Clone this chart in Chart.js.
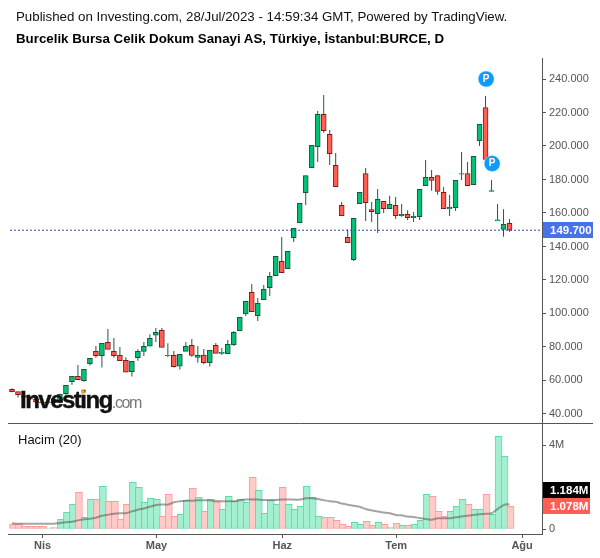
<!DOCTYPE html>
<html>
<head>
<meta charset="utf-8">
<title>BURCE</title>
<script src="https://cdn.jsdelivr.net/npm/chart.js@4"></script>
<style>
  html, body { margin: 0; padding: 0; background: #fff; }
  #wrap { position: relative; width: 600px; height: 558px; overflow: hidden; font-family: "Liberation Sans", Arial, sans-serif; }
  #wrap canvas { position: absolute; left: 0; top: 0; }
  .txt { position: absolute; white-space: nowrap; color: #111; }
  #published { left: 16px; top: 9px; font-size: 13.3px; }
  #symbol { left: 16px; top: 31px; font-size: 13.3px; font-weight: bold; color: #000; }
  #hacim { left: 18px; top: 432px; font-size: 13px; color: #111; }
  #logo { left: 20px; top: 386px; font-size: 24px; font-weight: bold; letter-spacing: -1.5px; color: #111; -webkit-text-stroke: 0.4px #111; }
  #logo span { font-size: 16px; font-weight: normal; color: #777; letter-spacing: -1.4px; -webkit-text-stroke: 0; }
  #dot { position: absolute; left: 81px; top: 390px; width: 4px; height: 4px; border-radius: 2px; background: #f5a623; }
</style>
</head>
<body>
<div id="wrap">
  <canvas id="chart" width="600" height="558"></canvas>
  <div class="txt" id="published">Published on Investing.com, 28/Jul/2023 - 14:59:34 GMT, Powered by TradingView.</div>
  <div class="txt" id="symbol">Burcelik Bursa Celik Dokum Sanayi AS, Türkiye, İstanbul:BURCE, D</div>
  <div class="txt" id="hacim">Hacim (20)</div>
  <div class="txt" id="logo">Investing<span>.com</span></div>
  <div id="dot"></div>
</div>
<script>
const opens = [54.7,53.3,51.0,49.8,48.8,47.0,46.6,48.8,46.8,52.1,59.3,62.5,59.9,70.0,77.4,74.8,82.8,77.4,75.0,72.0,65.3,73.6,77.4,80.4,87.0,90.0,75.0,75.0,68.5,77.4,81.0,73.8,
  75.2,70.6,81.0,76.2,76.0,81.4,89.8,99.7,112.6,98.7,108.3,115.4,122.6,131.1,126.8,145.3,154.2,172.1,187.0,199.6,218.9,206.9,188.4,164.5,145.4,132.1,165.5,183.6,162.1,159.6,166.9,162.5,164.5,
  158.4,159.2,157.2,157.8,176.3,181.3,182.4,172.3,162.5,163.1,183.2,183.6,176.9,203.1,223.0,172.8,155.3,150.2,153.8];
const highs = [55.3,53.3,51.5,50.3,49.2,47.5,47.8,49.5,52.0,57.1,62.5,69.3,66.7,73.2,80.6,82.2,90.7,85.4,80.0,73.8,71.4,78.6,83.0,87.6,91.3,91.3,82.2,77.6,75.6,83.0,84.8,80.6,
  78.8,78.0,82.4,79.4,84.2,89.6,97.7,107.3,117.6,109.3,117.0,124.8,134.1,145.7,137.1,150.8,165.8,182.4,200.4,220.9,230.4,209.5,195.8,166.5,150.2,156.8,172.3,186.8,166.5,174.3,166.9,170.3,169.5,
  165.3,161.7,160.6,174.1,191.6,185.6,182.4,175.5,170.7,179.5,196.4,190.4,193.8,212.9,229.8,179.7,165.3,162.3,156.4];
const lows = [52.9,49.8,49.0,48.3,46.6,46.0,46.2,46.4,46.4,51.3,57.5,60.5,59.3,68.9,73.6,67.7,78.6,73.6,71.8,64.9,62.3,71.8,74.6,80.4,83.0,79.8,73.8,67.7,66.5,77.4,74.2,70.6,
  69.7,68.3,76.2,75.2,76.0,80.6,89.8,98.5,101.1,95.5,108.3,110.4,122.6,124.4,126.8,142.7,154.2,164.7,187.0,190.4,207.9,188.6,175.7,158.4,142.2,131.3,165.5,155.2,154.6,148.0,160.0,162.5,156.4,
  157.8,155.8,154.6,155.8,176.3,173.3,170.9,162.5,158.2,161.2,179.7,176.3,176.9,200.0,192.0,172.8,155.3,145.8,148.8];
const closes = [53.3,51.5,49.8,48.8,47.0,46.6,47.2,46.8,51.7,57.1,62.5,60.5,66.7,73.2,74.8,82.2,78.6,74.8,71.8,64.9,71.4,77.4,80.4,85.2,88.8,79.8,74.8,68.3,75.6,80.4,75.0,75.0,
  70.6,78.0,76.2,76.8,81.6,88.8,97.7,107.3,101.1,106.1,114.4,122.2,134.1,124.4,137.1,150.8,165.8,182.4,200.4,218.9,209.1,195.4,175.7,158.4,142.2,156.8,172.3,166.1,160.8,168.1,162.5,165.1,158.4,
  159.2,157.2,158.0,174.1,181.3,179.5,172.9,162.5,163.3,179.5,183.6,176.3,193.8,212.9,192.0,173.4,155.9,153.2,149.7];
const volumes = [.25,.25,.13,.13,.13,.13,.06,.08,.46,.79,1.17,1.75,.56,1.41,1.41,2.03,1.32,1.32,.46,1.17,2.22,1.98,1.27,1.46,1.41,.6,1.65,.6,.7,1.37,1.94,1.51,
  .84,1.41,1.27,.94,1.56,1.32,1.41,1.27,2.46,1.84,.75,1.37,1.17,1.98,1.17,.94,1.08,2.03,1.51,.6,.56,.56,.41,.22,.13,.32,.22,.37,.17,.32,.22,.08,.27,
  .17,.17,.22,.41,1.65,1.56,.84,.6,.84,1.08,1.41,1.17,.94,.94,1.65,.7,4.41,3.46,1.078];
const volumeMA = [.27,.25,.25,.25,.25,.25,.25,.25,.29,.32,.35,.41,.46,.49,.54,.63,.68,.73,.75,.75,.84,.92,.98,1.06,1.14,1.17,1.16,1.27,1.32,1.35,1.35,1.37,
  1.37,1.37,1.33,1.32,1.32,1.32,1.37,1.40,1.41,1.40,1.38,1.38,1.38,1.40,1.40,1.40,1.40,1.46,1.46,1.43,1.37,1.32,1.30,1.21,1.16,1.11,1.06,.95,.89,.83,.79,.75,.67,
  .65,.59,.57,.52,.48,.44,.51,.51,.51,.56,.59,.63,.67,.70,.73,.75,.95,1.14,1.184];
const priceTicks = [40,60,80,100,120,140,160,180,200,220,240];
const volumeTicks = [0,4];
const monthPositions = [5.1,24.1,45.1,64.1,85.1];
const monthLabels = ['Nis','May','Haz','Tem','Ağu'];
const pMarkers = [{x:79.1,y:240},{x:80.1,y:189.5}];
const lastPrice = 149.7;
const lastVolumeMA = '1.184M';
const lastVolume = '1.078M';

const idx = opens.map((_, i) => i);
const isUp = idx.map(i => closes[i] >= opens[i]);
const axisColor = '#555';
const font = '"Liberation Sans", Arial, sans-serif';

function tag(ctx, text, y, w, bg) {
  ctx.fillStyle = bg;
  ctx.fillRect(543, y - 8, w, 16);
  ctx.fillStyle = '#fff';
  ctx.font = 'bold 11.5px ' + font;
  ctx.textBaseline = 'middle';
  ctx.textAlign = 'left';
  ctx.fillText(text, 550, y + 0.5);
}

const overlays = {
  id: 'overlays',
  afterDatasetsDraw(chart) {
    const ctx = chart.ctx;
    const meta = chart.getDatasetMeta(chart.data.datasets.findIndex(d => d.label === 'P'));
    ctx.save();
    ctx.fillStyle = '#fff';
    ctx.font = 'bold 10px ' + font;
    ctx.textAlign = 'center';
    ctx.textBaseline = 'middle';
    meta.data.forEach(pt => ctx.fillText('P', pt.x, pt.y));
    ctx.restore();
  },
  afterDraw(chart) {
    const ctx = chart.ctx;
    const yP = chart.scales.y.getPixelForValue(lastPrice);
    const yV = chart.scales.yVol.getPixelForValue(1.078);
    ctx.save();
    ctx.strokeStyle = axisColor;
    ctx.lineWidth = 1;
    ctx.beginPath();
    ctx.moveTo(8, 423.5);
    ctx.lineTo(593, 423.5);
    ctx.stroke();
    tag(ctx, lastPrice.toFixed(3), Math.round(yP), 50, '#4a72e8');
    tag(ctx, lastVolumeMA, Math.round(yV) - 16, 47, '#000');
    tag(ctx, lastVolume, Math.round(yV), 47, '#ff5f52');
    ctx.restore();
  }
};

new Chart(document.getElementById('chart'), {
  type: 'bar',
  data: {
    datasets: [
      {
        label: 'P', type: 'scatter', data: pMarkers, yAxisID: 'y', order: 0,
        pointRadius: 8, pointBackgroundColor: '#0f9aff', pointBorderColor: '#cfeaff', pointBorderWidth: 0.5
      },
      {
        label: 'Son', type: 'line', yAxisID: 'y', order: 1, pointRadius: 0,
        data: [{x: -1, y: lastPrice}, {x: 90, y: lastPrice}],
        borderColor: '#2d48a8', borderWidth: 1, borderDash: [2, 2]
      },
      {
        label: 'Mum', yAxisID: 'y', stack: 'a', order: 2, barThickness: 5, borderSkipped: false, borderWidth: 1,
        data: idx.map(i => ({x: i, y: [opens[i], closes[i]]})),
        backgroundColor: idx.map(i => isUp[i] ? '#00c176' : '#ff5f52'),
        borderColor: idx.map(i => isUp[i] ? '#17573c' : '#7c1c18')
      },
      {
        label: 'Fitil', yAxisID: 'y', stack: 'a', order: 3, barThickness: 1, borderWidth: 0, inflateAmount: 0,
        data: idx.map(i => ({x: i, y: [lows[i], highs[i]]})),
        backgroundColor: '#1f5a40'
      },
      {
        label: 'MA', type: 'line', yAxisID: 'yVol', order: 4, pointRadius: 0, tension: 0.3,
        data: idx.map(i => ({x: i, y: volumeMA[i]})),
        borderColor: 'rgba(90,90,90,0.55)', borderWidth: 2
      },
      {
        label: 'Hacim', yAxisID: 'yVol', stack: 'a', order: 5, barThickness: 7, borderSkipped: false, borderWidth: 1,
        data: idx.map(i => ({x: i + 1 / 6, y: volumes[i]})),
        backgroundColor: idx.map(i => isUp[i] ? '#a4efcf' : '#ffcbc8'),
        borderColor: idx.map(i => isUp[i] ? '#62dba8' : '#ff9d97')
      }
    ]
  },
  options: {
    responsive: false,
    animation: false,
    events: [],
    layout: { padding: { top: 58, left: 8, right: 0, bottom: 0 } },
    plugins: { legend: { display: false }, tooltip: { enabled: false } },
    scales: {
      x: {
        type: 'linear', min: -0.5833, max: 88.4167, offset: false, stacked: true,
        afterBuildTicks: s => { s.ticks = monthPositions.map(v => ({value: v})); },
        afterFit: s => { s.height = 24; },
        grid: { drawOnChartArea: false, offset: false, tickLength: 4, tickColor: axisColor },
        border: { color: axisColor },
        ticks: {
          autoSkip: false, maxRotation: 0, padding: 1, color: axisColor,
          font: { family: font, size: 11, weight: 'bold' },
          callback: v => monthLabels[monthPositions.indexOf(v)]
        }
      },
      y: {
        position: 'right', stack: 'panes', stackWeight: 366, weight: 1, stacked: false,
        min: 34, max: 252.54,
        afterBuildTicks: s => { s.ticks = priceTicks.map(v => ({value: v})); },
        afterFit: s => { s.width = 58; },
        grid: { drawOnChartArea: false, tickLength: 4, tickColor: axisColor },
        border: { color: axisColor },
        ticks: { padding: 3, color: axisColor, font: { family: font, size: 11 }, callback: v => v.toFixed(3) }
      },
      yVol: {
        position: 'right', stack: 'panes', stackWeight: 110, weight: 2, stacked: false,
        min: -0.238, max: 5,
        afterBuildTicks: s => { s.ticks = volumeTicks.map(v => ({value: v})); },
        afterFit: s => { s.width = 58; },
        grid: { drawOnChartArea: false, tickLength: 4, tickColor: axisColor },
        border: { color: axisColor },
        ticks: { padding: 3, color: axisColor, font: { family: font, size: 11 }, callback: v => v === 0 ? '0' : v + 'M' }
      }
    }
  },
  plugins: [overlays]
});
</script>
</body>
</html>
